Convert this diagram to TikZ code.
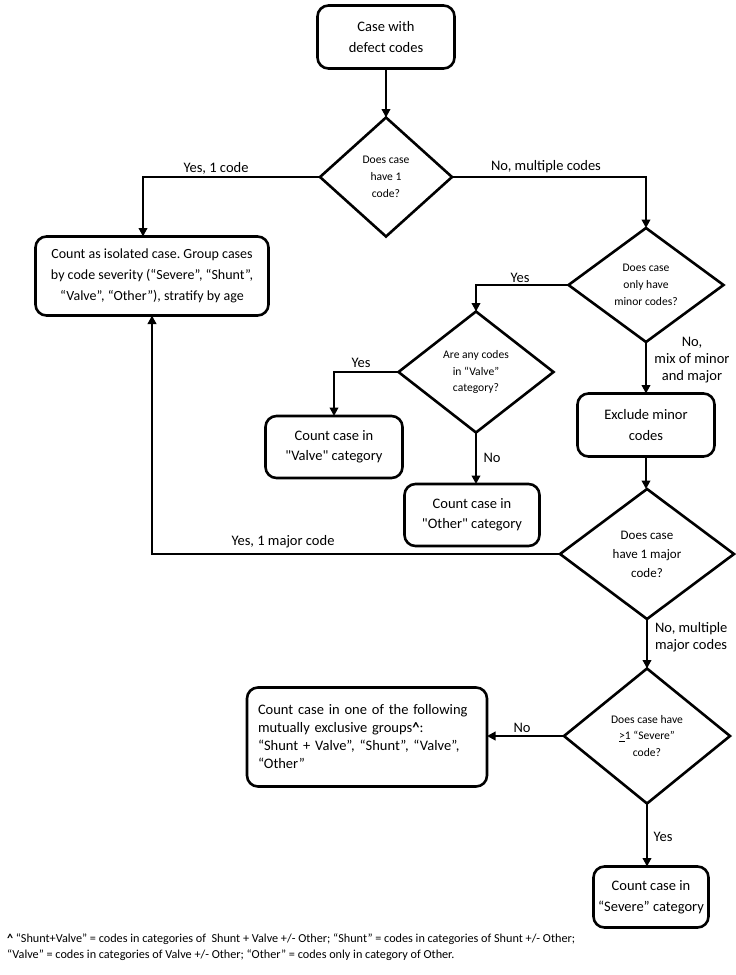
\documentclass[tikz,border=0pt]{standalone}
\usepackage{fontspec}
\setmainfont{Carlito}[Ligatures=TeXOff]
\usetikzlibrary{shapes.geometric,arrows.meta,calc}
\begin{document}
\frenchspacing
\begin{tikzpicture}[x=1pt,y=-1pt,
  every node/.style={inner sep=0pt, outer sep=0pt},
  proc/.style={draw, line width=2.6pt, rounded corners=11pt, align=center, font=\fontsize{14.5}{20.5}\selectfont},
  dec/.style={draw, line width=2.6pt, shape=diamond, align=center, font=\fontsize{11.6}{16.7}\selectfont},
  lbl/.style={font=\fontsize{14.5}{17}\selectfont, align=center},
  conn/.style={line width=2.6pt, -{Triangle[length=8.5pt,width=8.5pt]}},
]
\fill[white] (0,0) rectangle (736,975);
\useasboundingbox (0,0) rectangle (736,975);

\node[proc, minimum width=137pt, minimum height=63pt] (start) at (386,37) {Case with\\defect codes};
\node[dec, minimum width=132pt, minimum height=119pt] (d1) at (386,177) {Does case\\have 1\\code?};
\node[proc, font=\fontsize{14}{20.7}\selectfont, minimum width=233pt, minimum height=79pt] (iso) at (152,276) {Count as isolated case. Group cases\\by code severity (“Severe”, “Shunt”,\\“Valve”, “Other”), stratify by age};
\node[dec, minimum width=155pt, minimum height=114pt] (d2) at (646,285) {Does case\\only have\\minor codes?};
\node[dec, minimum width=155pt, minimum height=121pt] (d3) at (476,372) {Are any codes\\in “Valve”\\category?};
\node[proc, minimum width=137pt, minimum height=62pt] (valve) at (334,447) {Count case in\\"Valve" category};
\node[proc, minimum width=135pt, minimum height=62pt] (other) at (472,515) {Count case in\\"Other" category};
\node[proc, minimum width=137pt, minimum height=63pt] (excl) at (646,425) {Exclude minor\\codes};
\node[dec, font=\fontsize{13}{19}\selectfont, minimum width=174pt, minimum height=130pt] (d4) at (647,554) {Does case\\have 1 major\\code?};
\node[dec, minimum width=166pt, minimum height=135pt] (d5) at (647,736) {Does case have\\\underline{>}1 “Severe”\\code?};
\node[proc, align=left, text width=218pt, minimum width=240pt, minimum height=99pt, font=\fontsize{14.5}{18}\selectfont] (count) at (367,737) {Count case in one of the following\\mutually exclusive groups\textbf{\textasciicircum}:\\“Shunt + Valve”, “Shunt”, “Valve”,\\“Other”};
\node[proc, minimum width=115pt, minimum height=61pt] (severe) at (651,897) {Count case in\\“Severe” category};

\draw[conn] (start.south) -- (d1.north);
\draw[conn] (d1.west) -| ([xshift=-9pt]iso.north);
\draw[conn] (d1.east) -| (d2.north);
\draw[conn] (d2.west) -| (d3.north);
\draw[conn] (d3.west) -| (valve.north);
\draw[conn] (d3.south) -- (d3.south |- other.north);
\draw[conn] (d2.south) -- (excl.north);
\draw[conn] (excl.south) -- (excl.south |- d4.north);
\draw[conn] (d4.west) -| (iso.south);
\draw[conn] (d4.south) -- (d5.north);
\draw[conn] (d5.west) -- (d5.west -| count.east);
\draw[conn] (d5.south) -- (d5.south |- severe.north);

\node[lbl] (l1) at (216,168) {Yes, 1 code};
\node[lbl] (l2) at (546,167) {No, multiple codes};
\node[lbl] (l3) at (520,278) {Yes};
\node[lbl] (l4) at (361,363) {Yes};
\node[lbl] (l5) at (492,458) {No};
\node[lbl] (l6) at (692,360) {No,\\mix of minor\\and major};
\node[lbl] (l7) at (283,542) {Yes, 1 major code};
\node[lbl, align=left, anchor=west] (l8) at (655,637) {No, multiple\\major codes};
\node[lbl] (l9) at (522,728) {No};
\node[lbl] (l10) at (663,837) {Yes};

\node[anchor=north west, align=left, font=\fontsize{12.2}{15.5}\selectfont] (fn) at (7,934) {\textbf{\textasciicircum} “Shunt+Valve” = codes in categories of \ Shunt + Valve +/- Other; “Shunt” = codes in categories of Shunt +/- Other;\\“Valve” = codes in categories of Valve +/- Other; “Other” = codes only in category of Other.};
\end{tikzpicture}
\end{document}
